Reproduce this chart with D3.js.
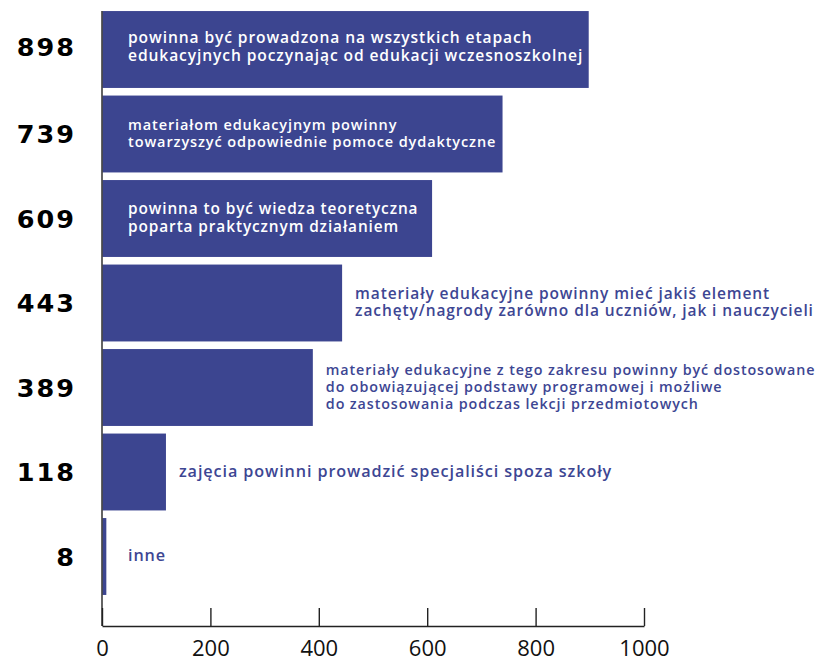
<!DOCTYPE html>
<html>
<head>
<meta charset="utf-8">
<script src="https://cdn.jsdelivr.net/npm/d3@7"></script>
<style>
  html, body { margin: 0; padding: 0; background: #fff; }
  svg { display: block; }
</style>
</head>
<body>
<svg id="chart" width="827" height="659"></svg>
<script>
// ---- data ----
const categories = [
  "powinna być prowadzona na wszystkich etapach\nedukacyjnych poczynając od edukacji wczesnoszkolnej",
  "materiałom edukacyjnym powinny\ntowarzyszyć odpowiednie pomoce dydaktyczne",
  "powinna to być wiedza teoretyczna\npoparta praktycznym działaniem",
  "materiały edukacyjne powinny mieć jakiś element\nzachęty/nagrody zarówno dla uczniów, jak i nauczycieli",
  "materiały edukacyjne z tego zakresu powinny być dostosowane\ndo obowiązującej podstawy programowej i możliwe\ndo zastosowania podczas lekcji przedmiotowych",
  "zajęcia powinni prowadzić specjaliści spoza szkoły",
  "inne"
];
const values = [898, 739, 609, 443, 389, 118, 8];
const xTicks = [0, 200, 400, 600, 800, 1000];

// ---- styles ----
const labelFontSizes = [15.6, 14.5, 15.4, 15.5, 14.3, 16.2, 16.2];
const barColor = "#3c4590";
const x0 = 102, x1 = 644, axisY = 626;

const svg = d3.select("#chart");
const x = d3.scaleLinear().domain([0, 1000]).range([x0, x1]);
const idx = d3.range(categories.length);
const y = d3.scaleBand().domain(idx).range([7.25, 598.75]).paddingInner(0.09).paddingOuter(0.045);

// bars
svg.append("g").selectAll("rect").data(idx).join("rect")
  .attr("x", x(0) + 0.5)
  .attr("y", i => y(i))
  .attr("width", i => Math.max(0, x(values[i]) - x(0) - 0.5))
  .attr("height", y.bandwidth())
  .attr("fill", barColor);

// value labels on left
const ls = 2;
svg.append("g").selectAll("text").data(idx).join("text")
  .attr("x", 74 + ls)
  .attr("y", i => y(i) + y.bandwidth() / 2 - (i === 0 ? 3 : 0))
  .attr("dy", "0.36em")
  .attr("text-anchor", "end")
  .attr("font-family", "'DejaVu Sans', sans-serif")
  .attr("font-weight", 700)
  .attr("font-size", 25.5)
  .attr("letter-spacing", ls)
  .attr("fill", "#000")
  .text(i => values[i]);

// category labels
const lbl = svg.append("g").selectAll("text").data(idx).join("text")
  .attr("font-family", "'Open Sans', sans-serif")
  .attr("font-weight", 600)
  .attr("font-size", i => labelFontSizes[i])
  .attr("letter-spacing", 0.9)
  .attr("fill", i => values[i] > 500 ? "#ffffff" : "#3d4693")
  .attr("x", i => values[i] > 500 ? x(0) + 26 : Math.max(x(values[i]) + 13, x(0) + 26))
  .attr("y", i => {
    const n = categories[i].split("\n").length;
    const lh = labelFontSizes[i] * 1.16;
    return y(i) + y.bandwidth() / 2 + 4.5 - (n - 1) * lh / 2 - (i === 0 ? 2 : 0);
  });
lbl.each(function(i) {
  const t = d3.select(this);
  const xx = +t.attr("x"), yy = +t.attr("y");
  const lh = labelFontSizes[i] * 1.16;
  categories[i].split("\n").forEach((line, k) => {
    t.append("tspan").attr("x", xx).attr("y", yy + k * lh).text(line);
  });
});

// x axis
const axis = d3.axisBottom(x).tickValues(xTicks).tickFormat(d3.format("d"))
  .tickSizeInner(-18).tickSizeOuter(0).tickPadding(14.5);
const gx = svg.append("g").attr("transform", `translate(0,${axisY})`).call(axis);
gx.select(".domain").attr("stroke", "#222").attr("stroke-width", 1.4);
gx.selectAll(".tick line").attr("stroke", "#222").attr("stroke-width", 1.4);
gx.selectAll(".tick text")
  .attr("font-family", "'Open Sans', sans-serif")
  .attr("font-size", 22)
  .attr("fill", "#111");

// vertical baseline
svg.append("line")
  .attr("x1", x(0)).attr("x2", x(0))
  .attr("y1", y(0)).attr("y2", axisY)
  .attr("stroke", "#222").attr("stroke-width", 1.4);
</script>
</body>
</html>
